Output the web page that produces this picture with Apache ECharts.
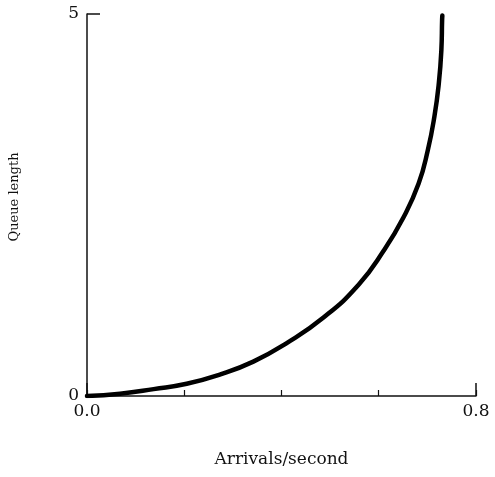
<!DOCTYPE html>
<html>
<head>
<meta charset="utf-8">
<script src="https://cdn.jsdelivr.net/npm/echarts@6/dist/echarts.min.js"></script>
<style>
html,body{margin:0;padding:0;background:#fff;}
#chart{width:495px;height:477px;}
</style>
</head>
<body>
<div id="chart"></div>
<script>
const arrivals = [0, 0.068, 0.137, 0.205, 0.273, 0.342, 0.410, 0.487, 0.559, 0.610, 0.651, 0.682, 0.701, 0.7145, 0.7235, 0.7288, 0.7303, 0.7308];
const queueLength = [0, 0.03, 0.09, 0.16, 0.28, 0.45, 0.69, 1.03, 1.46, 1.90, 2.34, 2.78, 3.22, 3.66, 4.09, 4.53, 4.92, 4.98];
const xLabels = {"0": "0.0", "0.8": "0.8"};
const yLabels = {"0": "0", "5": "5"};

const font = "DejaVu Serif";
const chart = echarts.init(document.getElementById('chart'));
chart.setOption({
  animation: false,
  backgroundColor: '#fff',
  grid: {left: 86, right: 19, top: 14, bottom: 81},
  xAxis: [{
    type: 'value', min: 0, max: 0.8, interval: 0.2,
    name: 'Arrivals/second', nameLocation: 'middle', nameGap: 55,
    nameTextStyle: {fontFamily: font, fontSize: 17, color: '#111'},
    axisLine: {show: true, onZero: false, lineStyle: {color: '#111', width: 1.5}},
    axisTick: {show: true, inside: true, length: 6, lineStyle: {color: '#111', width: 1.2}},
    splitLine: {show: false},
    axisLabel: {fontFamily: font, fontSize: 17, color: '#111', margin: 7,
      formatter: v => xLabels[String(v)] || ''}
  }, {
    type: 'value', min: 0, max: 0.8, interval: 0.8, position: 'bottom',
    axisLine: {show: false},
    axisTick: {show: true, inside: true, length: 13, lineStyle: {color: '#111', width: 1.5}},
    axisLabel: {show: false}, splitLine: {show: false}
  }],
  yAxis: {
    type: 'value', min: 0, max: 5, interval: 5,
    name: 'Queue length', nameLocation: 'middle', nameGap: 66,
    nameTextStyle: {fontFamily: font, fontSize: 13, color: '#111', padding: [0, 0, 0, 16]},
    axisLine: {show: true, onZero: false, lineStyle: {color: '#111', width: 1.5}},
    axisTick: {show: true, inside: true, length: 13, lineStyle: {color: '#111', width: 1.5}},
    splitLine: {show: false},
    axisLabel: {fontFamily: font, fontSize: 17, color: '#111', margin: 8,
      formatter: v => yLabels[String(v)] || ''}
  },
  series: [{
    type: 'line', smooth: 0.5, symbol: 'none',
    data: arrivals.map((x, i) => [x, queueLength[i]]),
    lineStyle: {color: '#000', width: 4.5, cap: 'round'}
  }]
});
</script>
</body>
</html>
